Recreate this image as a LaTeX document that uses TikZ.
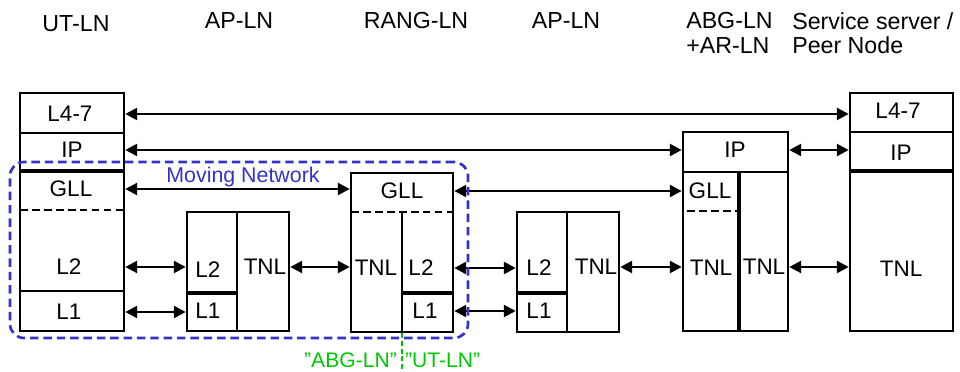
\documentclass[tikz,border=0pt]{standalone}
\usepackage{fontspec}
\setmainfont{Liberation Sans}
\usepackage{xcolor}
\definecolor{mnblue}{RGB}{51,51,204}
\definecolor{cutgreen}{RGB}{0,200,0}
\usepackage{tikz}
\usetikzlibrary{arrows.meta,positioning,fit}
\tikzset{
  ln_frame/.style={rectangle,draw=black,line width=1.8pt,inner sep=0pt},
  ln_txt/.style={font=\fontsize{16}{18}\selectfont,inner sep=1pt},
  ln_head/.style={font=\fontsize{16.5}{17.7}\selectfont,
    inner sep=0pt,align=left},
  ln_sep/.style={line width=1.8pt},
  ln_thick/.style={line width=2.4pt},
  ln_dash/.style={line width=1.8pt,dash pattern=on 5.5pt off 3pt},
  arr/.style={{Triangle[length=8.5pt,width=8.5pt]}-{Triangle[length=8.5pt,width=8.5pt]},
    line width=1.9pt},
  mn_frame/.style={rectangle,draw=mnblue,line width=1.9pt,
    dash pattern=on 6pt off 3.5pt,rounded corners=0.35cm,inner sep=0pt},
  mn_txt/.style={font=\fontsize{15.2}{18}\selectfont,text=mnblue,inner sep=0pt},
  cut_line/.style={draw=cutgreen,line width=1.1pt,dash pattern=on 3.5pt off 2pt},
  cut_txt/.style={font=\fontsize{15}{18}\selectfont,text=cutgreen,inner sep=0pt},
}

\begin{document}
\begin{tikzpicture}[x=0.025cm,y=-0.025cm]
  \useasboundingbox (0,0) rectangle (960,372);

  % --- Node headers ---
  \node (hut)   [ln_head, anchor=base] at (76,32)  {UT-LN};
  \node (hap1)  [ln_head, anchor=base] at (239,29) {AP-LN};
  \node (hrang) [ln_head, anchor=base] at (416,29) {RANG-LN};
  \node (hap2)  [ln_head, anchor=base] at (566,29) {AP-LN};
  \node (habg)  [ln_head, anchor=north west] at (686,12) {ABG-LN\\+AR-LN};
  \node (hsrv)  [ln_head, anchor=north west] at (792,12)
    {Service server /\\Peer Node};

  % --- Protocol stacks (outer frames) ---
  \node (ut)   [ln_frame, fit={(20,93) (124,331)}]   {};
  \node (ap1)  [ln_frame, fit={(187,212) (289,331)}] {};
  \node (rang) [ln_frame, fit={(351,173) (453,332)}] {};
  \node (ap2)  [ln_frame, fit={(517,212) (619,332)}] {};
  \node (abg)  [ln_frame, fit={(683,132) (788,331)}] {};
  \node (srv)  [ln_frame, fit={(850,93) (953,331)}]  {};

  % --- Layer boundaries inside the stacks ---
  \draw[ln_sep]   (20,133) -- (124,133);
  \draw[ln_thick] (20,171) -- (124,171);
  \draw[ln_dash]  (20,210) -- (124,210);
  \draw[ln_sep]   (20,291) -- (124,291);
  \draw[ln_sep]   (237,212) -- (237,331);
  \draw[ln_thick] (187,293) -- (237,293);
  \draw[ln_dash]  (351,212) -- (453,212);
  \draw[ln_sep]   (402,212) -- (402,332);
  \draw[ln_thick] (402,293) -- (453,293);
  \draw[ln_sep]   (567,212) -- (567,332);
  \draw[ln_thick] (517,293) -- (567,293);
  \draw[ln_sep]   (683,172) -- (788,172);
  \draw[ln_thick] (739,172) -- (739,331);
  \draw[ln_dash]  (687,211) -- (739,211);
  \draw[ln_sep]   (850,132) -- (953,132);
  \draw[ln_thick] (850,171) -- (953,171);

  % --- Layer labels ---
  \node (ut47)    [ln_txt] at (70,114)  {L4-7};
  \node (utip)    [ln_txt] at (72,150)  {IP};
  \node (utgll)   [ln_txt] at (71,189)  {GLL};
  \node (utl2)    [ln_txt] at (69,267)  {L2};
  \node (utl1)    [ln_txt] at (69,312)  {L1};
  \node (ap1l2)   [ln_txt] at (208,270) {L2};
  \node (ap1l1)   [ln_txt] at (208,311) {L1};
  \node (ap1tnl)  [ln_txt] at (265,267) {TNL};
  \node (ranggll) [ln_txt] at (402,191) {GLL};
  \node (rangtnl) [ln_txt] at (376,268) {TNL};
  \node (rangl2)  [ln_txt] at (421,268) {L2};
  \node (rangl1)  [ln_txt] at (425,311) {L1};
  \node (ap2l2)   [ln_txt] at (539,268) {L2};
  \node (ap2l1)   [ln_txt] at (539,311) {L1};
  \node (ap2tnl)  [ln_txt] at (596,267) {TNL};
  \node (abgip)   [ln_txt] at (735,150) {IP};
  \node (abggll)  [ln_txt] at (710,191) {GLL};
  \node (abgtnl)  [ln_txt] at (711,268) {TNL};
  \node (abgtnr)  [ln_txt] at (764,267) {TNL};
  \node (srv47)   [ln_txt] at (898,111) {L4-7};
  \node (srvip)   [ln_txt] at (901,153) {IP};
  \node (srvtnl)  [ln_txt] at (901,269) {TNL};

  % --- Peer links ---
  \draw[arr] (ut.east |- ut47)     -- (srv.west |- ut47);
  \draw[arr] (ut.east |- utip)     -- (abg.west |- utip);
  \draw[arr] (abg.east |- abgip)   -- (srv.west |- abgip);
  \draw[arr] (ut.east |- utgll)    -- (rang.west |- utgll);
  \draw[arr] (rang.east |- ranggll) -- (abg.west |- ranggll);
  \draw[arr] (ut.east |- utl2)     -- (ap1.west |- utl2);
  \draw[arr] (ut.east |- utl1)     -- (ap1.west |- utl1);
  \draw[arr] (ap1.east |- ap1tnl)  -- (rang.west |- ap1tnl);
  \draw[arr] (rang.east |- rangl2) -- (ap2.west |- rangl2);
  \draw[arr] (rang.east |- rangl1) -- (ap2.west |- rangl1);
  \draw[arr] (ap2.east |- ap2tnl)  -- (abg.west |- ap2tnl);
  \draw[arr] (abg.east |- abgtnr)  -- (srv.west |- abgtnr);

  % --- Moving network ---
  \node (mnet)  [mn_frame, fit={(10,162) (468,338)}] {};
  \node (mnlbl) [mn_txt, anchor=base] at (243,183) {Moving Network};

  % --- Split of RANG-LN ---
  \coordinate (cutend) at (402,372);
  \coordinate (cutmid) at (402,360);
  \draw[cut_line] (rang.south) -- (cutend);
  \node (cutl) [cut_txt, left=3.5pt of cutmid]  {”ABG-LN”};
  \node (cutr) [cut_txt, right=2pt of cutmid] {”UT-LN”};
\end{tikzpicture}
\end{document}
